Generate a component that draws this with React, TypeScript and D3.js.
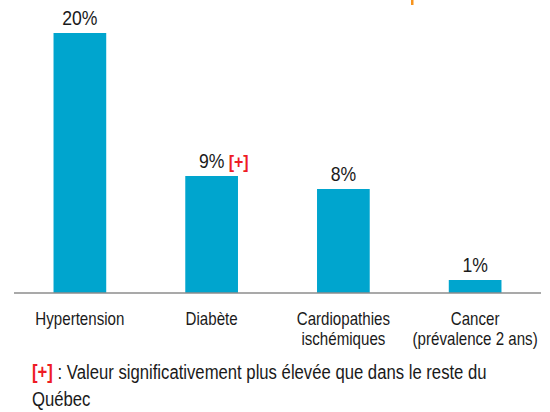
import React, { useEffect, useRef } from 'react';
import * as d3 from 'd3';

const categories = ['Hypertension', 'Diabète', 'Cardiopathies\nischémiques', 'Cancer\n(prévalence 2 ans)'];
const values = [20, 9, 8, 1];
const valueLabels = ['20%', '9%', '8%', '1%'];
const flagged = [false, true, false, false];
const footnote = ' : Valeur significativement plus élevée que dans le reste du';
const footnote2 = 'Québec';

const FONT = "'Liberation Sans', Arial, sans-serif";

const App = () => {
    const svgRef = useRef<SVGSVGElement>(null);

    useEffect(() => {
        const svg = d3.select(svgRef.current);
        svg.selectAll('*').remove();
        const width = 550;
        const height = 412;
        svg.attr('width', width).attr('height', height);

        // condensed text helper (reference uses a narrow face)
        const label = (x, y, size, narrow, anchor = 'start') => svg.append('g')
            .attr('transform', `translate(${x},${y}) scale(${narrow},1)`)
            .append('text')
            .attr('text-anchor', anchor)
            .attr('font-family', FONT)
            .attr('font-size', size)
            .attr('fill', '#1a1a1a');

        const x = d3.scaleBand()
            .domain(categories)
            .range([14, 541])
            .paddingInner(0.6)
            .paddingOuter(0.3);
        const y = d3.scaleLinear().domain([0, 20]).range([293, 33]);

        // small orange mark at the top edge
        svg.append('rect')
            .attr('x', 411).attr('y', 0).attr('width', 2.5).attr('height', 5)
            .attr('fill', '#f7941d');

        svg.selectAll('.bar')
            .data(values)
            .enter().append('rect')
            .attr('class', 'bar')
            .attr('x', (d, i) => x(categories[i]))
            .attr('y', d => y(d))
            .attr('width', x.bandwidth())
            .attr('height', d => y(0) - y(d))
            .attr('fill', '#00a5ce');

        svg.append('line')
            .attr('x1', 14).attr('x2', 541)
            .attr('y1', y(0)).attr('y2', y(0))
            .attr('stroke', '#8c8c8c')
            .attr('stroke-width', 1.5);

        values.forEach((v, i) => {
            const cx = x(categories[i]) + x.bandwidth() / 2;
            label(cx, y(v) - 8, 21, 0.84, 'middle').text(valueLabels[i]);
            if (flagged[i]) {
                label(cx + 17, y(v) - 8, 19, 0.84)
                    .attr('font-weight', 'bold')
                    .attr('fill', '#ee1c25')
                    .text('[+]');
            }
            categories[i].split('\n').forEach((l, j) => {
                label(cx, 325 + j * 20, 18, 0.84, 'middle').text(l);
            });
        });

        const fn = label(32, 379, 20, 0.835);
        fn.append('tspan').attr('fill', '#ee1c25').attr('font-weight', 'bold').text('[+]');
        fn.append('tspan').text(footnote);
        label(32, 406, 20, 0.835).text(footnote2);
    }, []);

    return (
        <svg ref={svgRef} style={{ position: 'absolute', left: 0, top: 0 }}></svg>
    );
};

export default App;
